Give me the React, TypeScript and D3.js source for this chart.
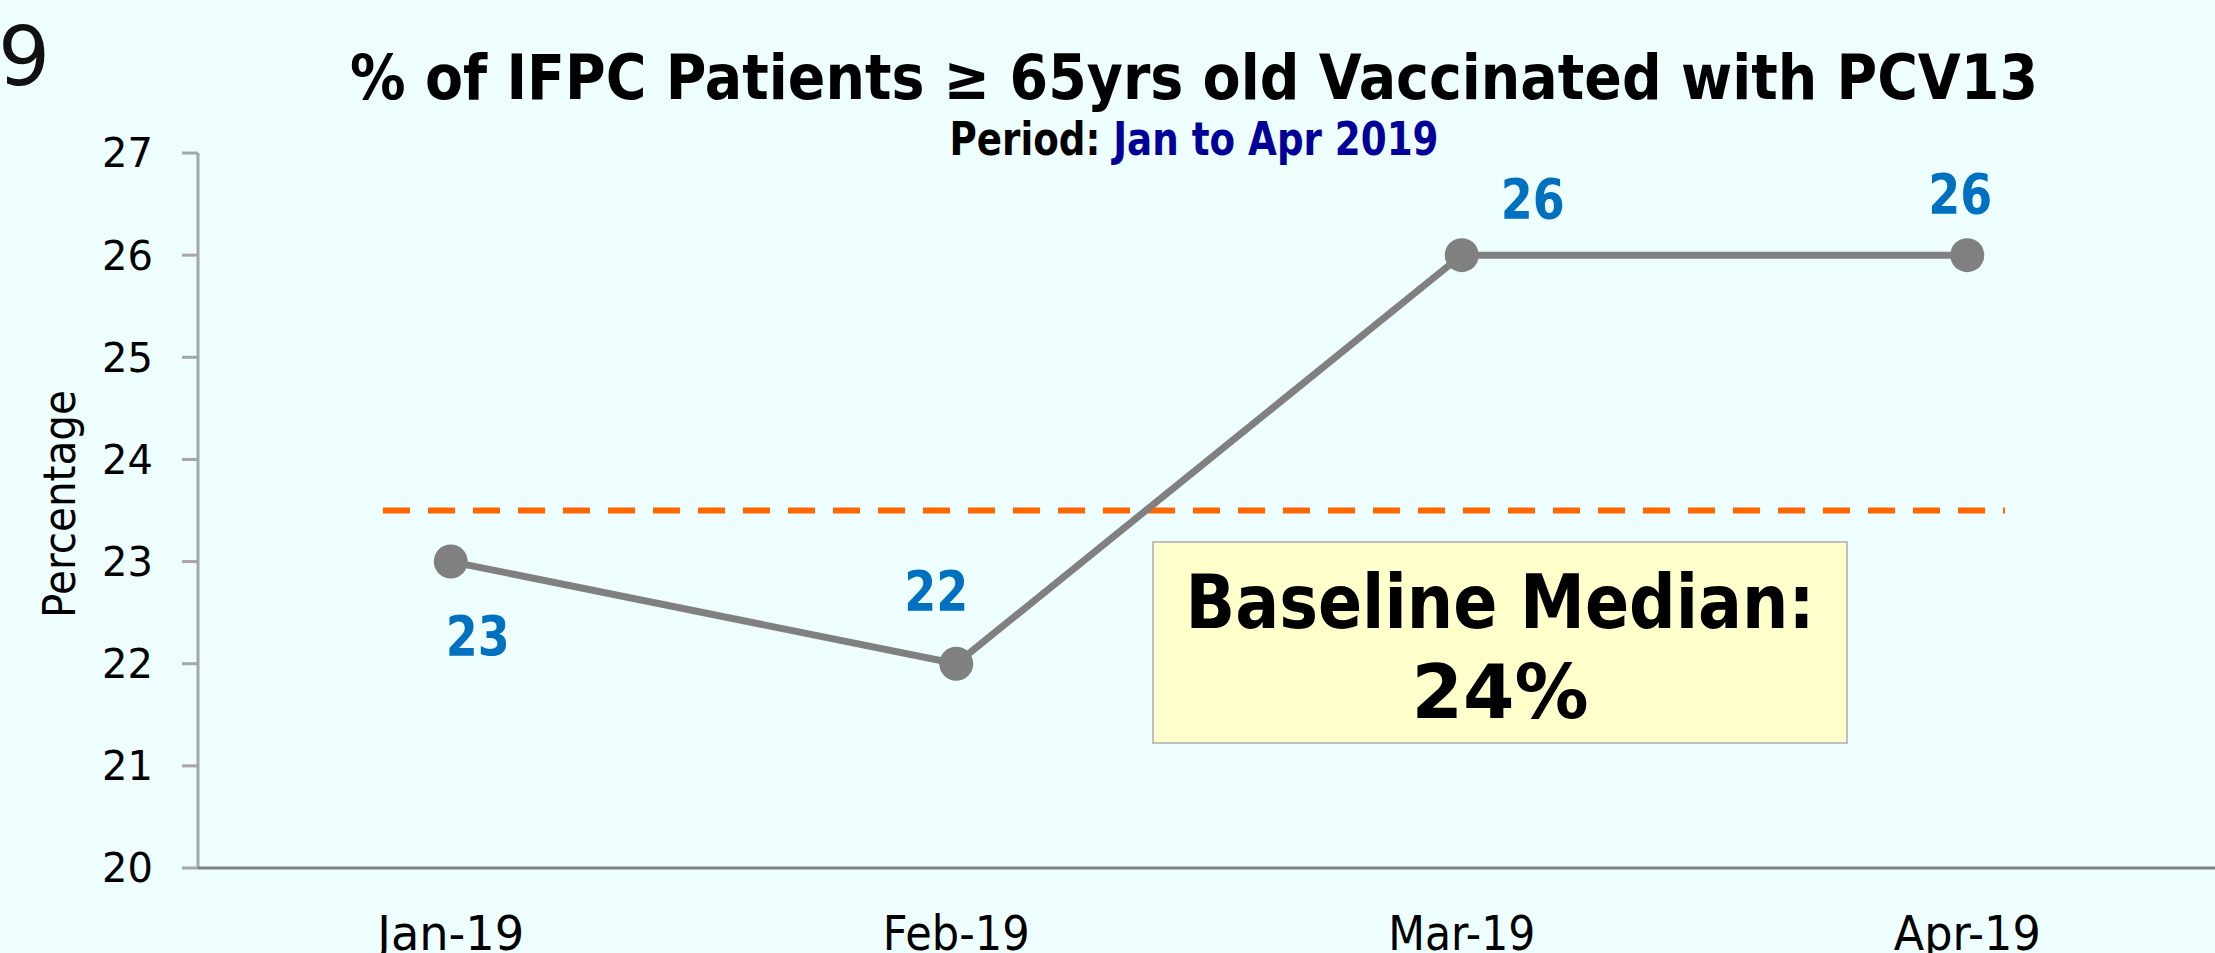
import React from 'react';
import * as d3 from 'd3';

// chart values
const months = ['Jan-19', 'Feb-19', 'Mar-19', 'Apr-19'];
const pcv13Rates = [23, 22, 26, 26];
const yTicks = [20, 21, 22, 23, 24, 25, 26, 27];
const baselineValue = 23.5;
const baselineLabel = ['Baseline Median:', '24%'];
// label offsets from each point (dx, dy)
const labelOffsets = [
  [27, 73],
  [-20, -74],
  [71, -57],
  [-7, -62],
];

const W = 2215;
const H = 953;
const FONT = '"DejaVu Sans", Verdana, sans-serif';

const App = () => {
  const x = d3.scalePoint<string>().domain(months).range([198, 2220]).padding(0.5);
  const y = d3.scaleLinear().domain([20, 27]).range([868, 153]);

  const line = d3
    .line<number>()
    .x((d, i) => x(months[i]) as number)
    .y((d) => y(d));

  const axisGray = '#a6a6a6';

  return (
    <svg width={W} height={H} style={{ display: 'block', position: 'absolute', left: 0, top: 0 }}>
      <style>{`body{margin:0}`}</style>
      <rect x={0} y={0} width={W} height={H} fill="#eefefe" />

      {/* stray slide number */}
      <text x={-2} y={85} fontFamily={FONT} fontSize={82} fill="#111">9</text>

      {/* title */}
      <text x={1194} y={99} textAnchor="middle" fontFamily={FONT} fontWeight="bold" fontSize={62}
        textLength={1688} lengthAdjust="spacingAndGlyphs" fill="#000">
        % of IFPC Patients ≥ 65yrs old Vaccinated with PCV13
      </text>
      <text x={1194} y={155} textAnchor="middle" fontFamily={FONT} fontWeight="bold" fontSize={46}
        textLength={489} lengthAdjust="spacingAndGlyphs">
        <tspan fill="#000">Period: </tspan>
        <tspan fill="#000099">Jan to Apr 2019</tspan>
      </text>

      {/* y axis */}
      <line x1={198} x2={198} y1={y(27)} y2={y(20)} stroke={axisGray} strokeWidth={3} />
      {yTicks.map((t) => (
        <g key={t}>
          <line x1={182} x2={198} y1={y(t)} y2={y(t)} stroke={axisGray} strokeWidth={3} />
          <text x={153} y={y(t)} dy="0.36em" textAnchor="end" fontFamily={FONT} fontSize={40} fill="#000">
            {t}
          </text>
        </g>
      ))}
      <text transform={`translate(75,504) rotate(-90)`} textAnchor="middle" fontFamily={FONT}
        fontSize={44} textLength={228} lengthAdjust="spacingAndGlyphs" fill="#000">
        Percentage
      </text>

      {/* x axis */}
      <line x1={198} x2={W} y1={y(20)} y2={y(20)} stroke="#808080" strokeWidth={3} />
      {months.map((m) => (
        <text key={m} x={x(m)} y={950} textAnchor="middle" fontFamily={FONT} fontSize={48}
          textLength={147} lengthAdjust="spacingAndGlyphs" fill="#000">
          {m}
        </text>
      ))}

      {/* baseline median */}
      <line x1={383} x2={2005} y1={y(baselineValue)} y2={y(baselineValue)} stroke="#ff6600"
        strokeWidth={6} strokeDasharray="27 18" />
      <rect x={1153} y={542} width={694} height={201} fill="#ffffcc" stroke="#bfbfbf" strokeWidth={2} />
      <text x={1500} y={628} textAnchor="middle" fontFamily={FONT} fontWeight="bold" fontSize={75}
        textLength={629} lengthAdjust="spacingAndGlyphs" fill="#000">
        {baselineLabel[0]}
      </text>
      <text x={1500} y={718} textAnchor="middle" fontFamily={FONT} fontWeight="bold" fontSize={75}
        textLength={177} lengthAdjust="spacingAndGlyphs" fill="#000">
        {baselineLabel[1]}
      </text>

      {/* series */}
      <path d={line(pcv13Rates) as string} fill="none" stroke="#808080" strokeWidth={7} />
      {pcv13Rates.map((v, i) => (
        <circle key={i} cx={x(months[i])} cy={y(v)} r={17} fill="#808080" />
      ))}
      {pcv13Rates.map((v, i) => (
        <text key={`l${i}`} x={(x(months[i]) as number) + labelOffsets[i][0]} y={y(v) + labelOffsets[i][1]}
          dy="0.36em" textAnchor="middle" fontFamily={FONT} fontWeight="bold" fontSize={56}
          textLength={64} lengthAdjust="spacingAndGlyphs" fill="#0070c0">
          {v}
        </text>
      ))}
    </svg>
  );
};

export default App;
